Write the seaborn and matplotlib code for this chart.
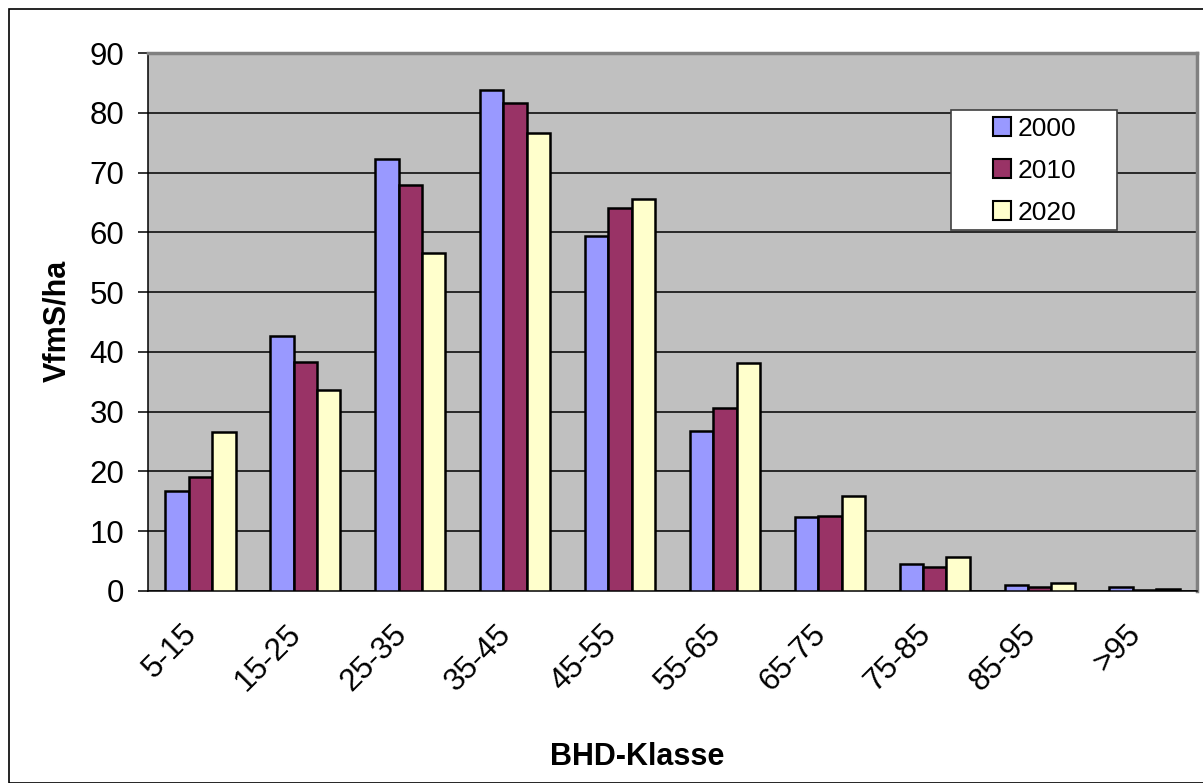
import numpy as np
import pandas as pd
import matplotlib
matplotlib.use('Agg')
import matplotlib.pyplot as plt
import matplotlib.transforms as mtransforms
import seaborn as sns

classes = ['5-15', '15-25', '25-35', '35-45', '45-55', '55-65', '65-75', '75-85', '85-95', '>95']
v2000 = [16.8, 42.7, 72.2, 83.8, 59.4, 26.8, 12.4, 4.5, 1.0, 0.6]
v2010 = [19.1, 38.3, 68.0, 81.7, 64.0, 30.6, 12.6, 4.0, 0.7, 0.2]
v2020 = [26.6, 33.7, 56.5, 76.6, 65.6, 38.2, 15.9, 5.7, 1.3, 0.4]
years = ['2000', '2010', '2020']

df = pd.DataFrame({
    'BHD-Klasse': classes * 3,
    'Jahr': [y for y in years for _ in classes],
    'VfmS/ha': v2000 + v2010 + v2020,
})

sns.set_style('white')
plt.rcParams['font.family'] = ['Liberation Sans', 'DejaVu Sans']
plt.rcParams['text.color'] = 'black'
plt.rcParams['axes.labelcolor'] = 'black'
plt.rcParams['xtick.color'] = 'black'
plt.rcParams['ytick.color'] = 'black'

W, H = 1203, 783
fig = plt.figure(figsize=(W / 100, H / 100), dpi=100)
ax = fig.add_axes([148 / W, 1 - 591 / H, (1197 - 148) / W, (591 - 53) / H])
ax.set_facecolor('#c0c0c0')

sns.barplot(data=df, x='BHD-Klasse', y='VfmS/ha', hue='Jahr', ax=ax,
            palette=['#9999ff', '#993366', '#ffffcc'], width=0.67,
            edgecolor='black', linewidth=1.8, saturation=1, zorder=3)

ax.set_ylim(0, 90)
ax.set_xlim(-0.5, len(classes) - 0.5)
ax.set_yticks(range(0, 91, 10))
ax.yaxis.grid(True, color='black', linewidth=1.1, zorder=0)
ax.set_axisbelow(True)

ax.set_xticks(np.arange(len(classes)))
ax.set_xticklabels(classes, rotation=45, ha='right', rotation_mode='anchor', fontsize=22.5)
ax.tick_params(axis='x', length=0, pad=20)
shift = mtransforms.ScaledTranslation(-0.19, 0, fig.dpi_scale_trans)
for lbl in ax.get_xticklabels():
    lbl.set_transform(lbl.get_transform() + shift)
# boundary ticks between categories
ax.set_xticks(np.arange(-0.5, len(classes), 1), minor=True)
ax.tick_params(axis='x', which='minor', length=6.5, width=1.1, color='black', direction='out')
ax.tick_params(axis='y', labelsize=22.5, length=7, width=1.1, color='black', direction='out', pad=10)
ax.tick_params(axis='y', left=True)

for s in ['left', 'bottom']:
    ax.spines[s].set_color('black')
    ax.spines[s].set_linewidth(1.1)
for s in ['top', 'right']:
    ax.spines[s].set_color('#808080')
    ax.spines[s].set_linewidth(2.5)

ax.set_xlabel('BHD-Klasse', fontsize=22, fontweight='bold', va='center')
ax.set_ylabel('VfmS/ha', fontsize=22, fontweight='bold', va='center')
ax.xaxis.set_label_coords((637 - 148) / 1049, -(757 - 591) / 538)
ax.yaxis.set_label_coords((57 - 148) / 1049, (591 - 321) / 538)

# legend box drawn separately (Excel style: wide side padding)
box = plt.Rectangle((951 / W, 1 - 230 / H), 166 / W, 120 / H, transform=fig.transFigure,
                    facecolor='white', edgecolor='#404040', linewidth=1.2, zorder=5, clip_on=False)
ax.add_patch(box)
leg = ax.legend(loc='upper left', bbox_to_anchor=(990 / W, 1 - 114 / H), bbox_transform=fig.transFigure,
                frameon=False, fontsize=19, handlelength=0.7, handleheight=0.7,
                handletextpad=0.25, labelspacing=0.68, borderpad=0.1, borderaxespad=0)
leg.set_zorder(6)
for h in leg.legend_handles:
    h.set_linewidth(1.5)

fig.patches.append(plt.Rectangle((9 / W, 0), 1.2, 1 - 9 / H, transform=fig.transFigure,
                                 fill=False, edgecolor='black', linewidth=1.2))

fig.savefig('out.png', dpi=100)
